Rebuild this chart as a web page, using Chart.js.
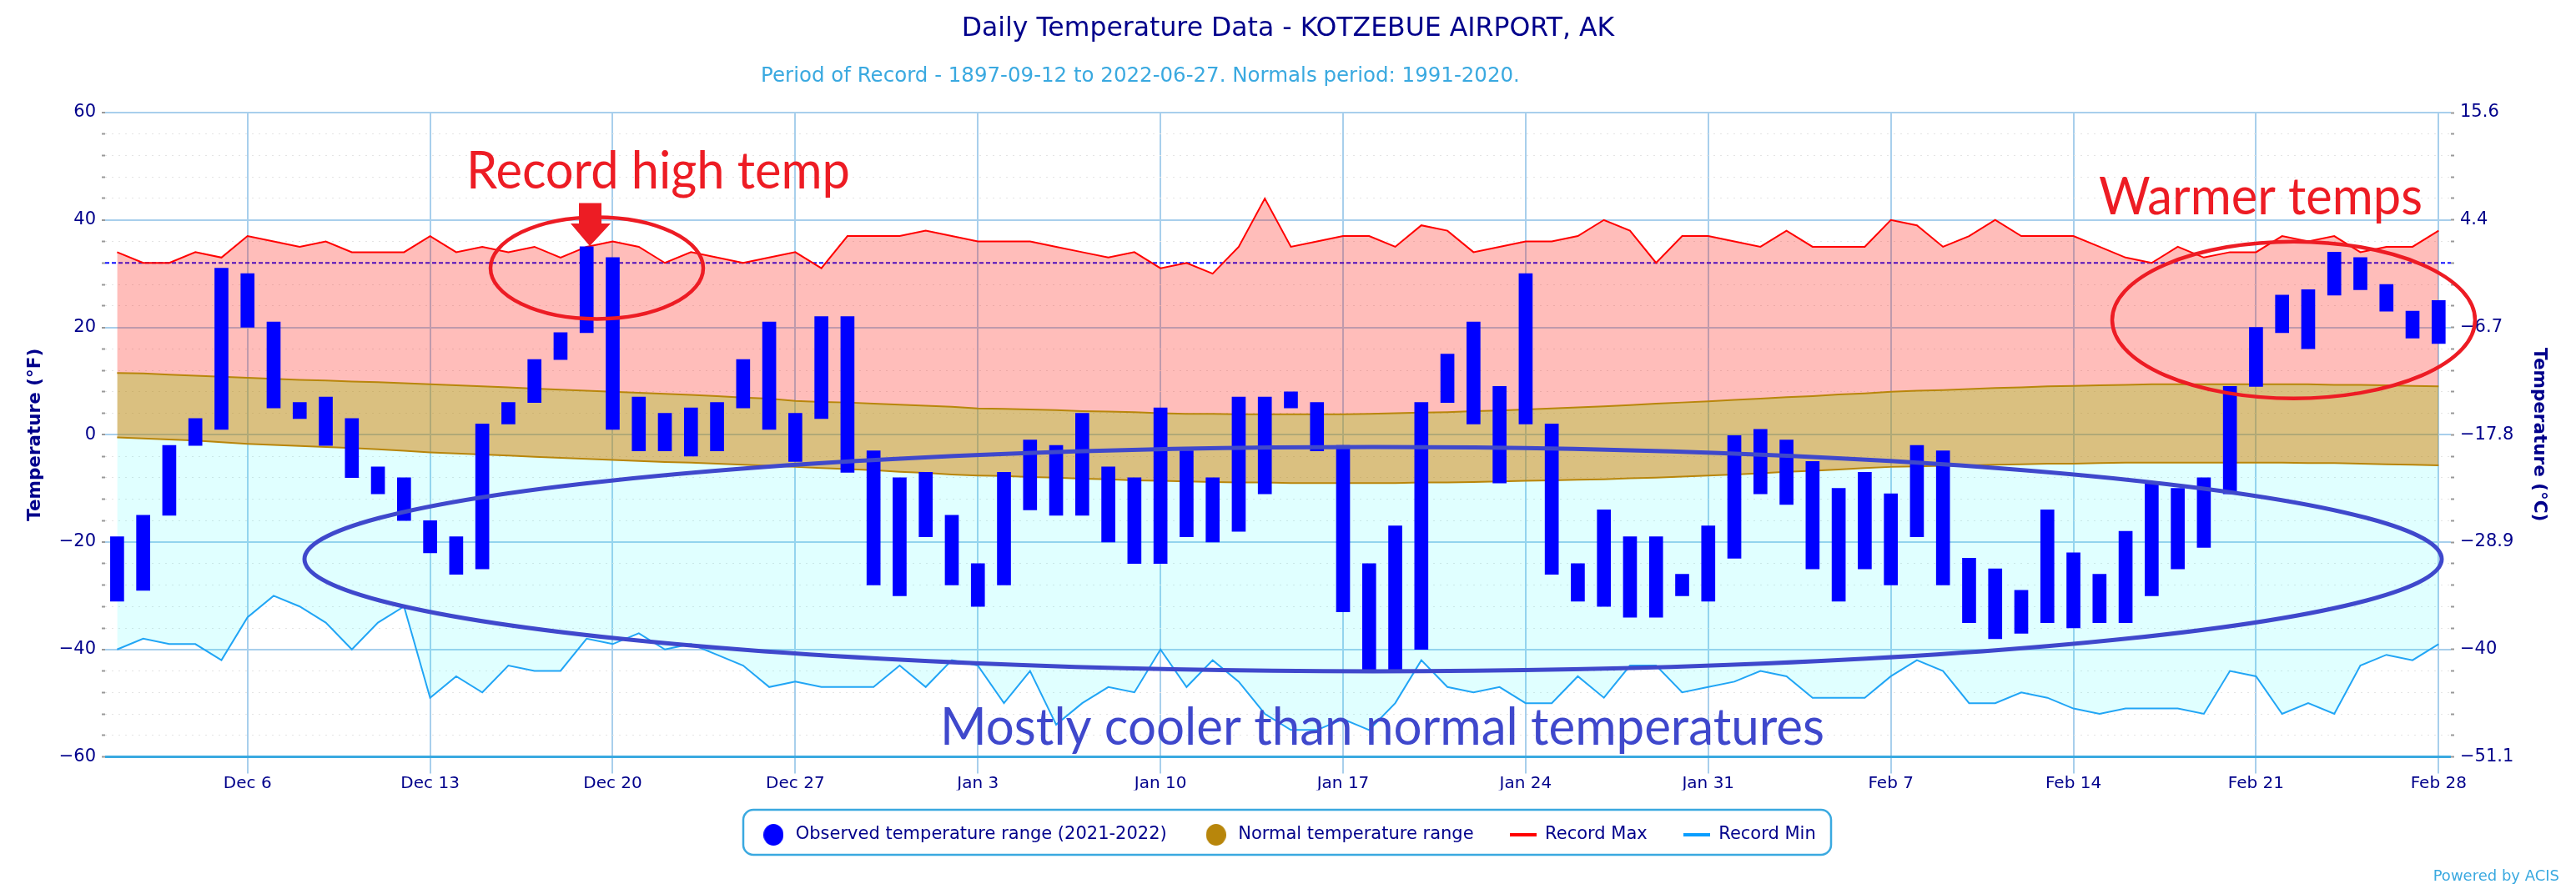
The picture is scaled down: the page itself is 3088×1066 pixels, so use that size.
<!DOCTYPE html>
<html>
<head>
<meta charset="utf-8">
<title>Daily Temperature Data</title>
<script src="https://cdn.jsdelivr.net/npm/chart.js@4/dist/chart.umd.min.js"></script>
<style>
    html, body { margin: 0; padding: 0; background: #fff; }
    canvas { display: block; }
</style>
</head>
<body>
<canvas id="temp-chart" width="3088" height="1066"></canvas>
<script>
// Day labels on the axis, index 5 is Dec 6 and every 7th day after that
const tickDays = [5, 12, 19, 26, 33, 40, 47, 54, 61, 68, 75, 82, 89];
const tickLabels = ['Dec 6', 'Dec 13', 'Dec 20', 'Dec 27', 'Jan 3', 'Jan 10', 'Jan 17', 'Jan 24', 'Jan 31', 'Feb 7', 'Feb 14', 'Feb 21', 'Feb 28'];

// Values in deg F, Dec 1 to Feb 28
const obsHigh = [
    -19, -15, -2, 3, 31, 30, 21, 6, 7, 3, -6, -8, -16, -19, 2, 6, 14, 19, 35, 33, 7, 4, 5, 6, 14, 21, 4, 22,
    22, -3, -8, -7, -15, -24, -7, -1, -2, 4, -6, -8, 5, -3, -8, 7, 7, 8, 6, -2, -24, -17, 6, 15, 21, 9, 30, 2, -24, -14, -19, -19,
    -26, -17, 0, 1, -1, -5, -10, -7, -11, -2, -3, -23, -25, -29, -14, -22, -26, -18, -9, -10, -8, 9, 20, 26, 27, 34, 33, 28, 23, 25
];
const obsLow = [
    -31, -29, -15, -2, 1, 20, 5, 3, -2, -8, -11, -16, -22, -26, -25, 2, 6, 14, 19, 1, -3, -3, -4, -3, 5, 1, -5, 3,
    -7, -28, -30, -19, -28, -32, -28, -14, -15, -15, -20, -24, -24, -19, -20, -18, -11, 5, -3, -33, -44, -44, -40, 6, 2, -9, 2, -26, -31, -32, -34, -34,
    -30, -31, -23, -11, -13, -25, -31, -25, -28, -19, -28, -35, -38, -37, -35, -36, -35, -35, -30, -25, -21, -11, 9, 19, 16, 26, 27, 23, 18, 17
];
const normalHigh = [
    11.5, 11.4, 11.2, 11.0, 10.8, 10.6, 10.4, 10.2, 10.1, 9.9, 9.8, 9.6, 9.4, 9.2, 9.0, 8.8, 8.6, 8.4, 8.2, 8.0,
    7.8, 7.6, 7.4, 7.2, 6.9, 6.7, 6.3, 6.1, 6.0, 5.8, 5.6, 5.4, 5.2, 4.9, 4.8, 4.7, 4.6, 4.4, 4.3, 4.2,
    4.0, 3.9, 3.9, 3.8, 3.8, 3.8, 3.8, 3.8, 3.9, 4.0, 4.1, 4.2, 4.4, 4.5, 4.7, 4.9, 5.1, 5.3, 5.5, 5.8,
    6.0, 6.2, 6.5, 6.7, 7.0, 7.2, 7.5, 7.7, 8.0, 8.2, 8.3, 8.5, 8.7, 8.8, 9.0, 9.1, 9.2, 9.3, 9.4, 9.4,
    9.4, 9.4, 9.4, 9.4, 9.4, 9.3, 9.3, 9.2, 9.1, 9.0
];
const normalLow = [
    -0.5, -0.7, -0.9, -1.1, -1.4, -1.7, -1.9, -2.1, -2.3, -2.5, -2.7, -3.0, -3.3, -3.5, -3.7, -3.9, -4.1, -4.3, -4.5, -4.7,
    -4.9, -5.1, -5.2, -5.4, -5.6, -5.8, -6.0, -6.2, -6.4, -6.6, -6.9, -7.1, -7.4, -7.6, -7.7, -7.9, -8.0, -8.2, -8.3, -8.5,
    -8.6, -8.7, -8.8, -8.9, -8.9, -9.0, -9.0, -9.0, -9.0, -9.0, -8.9, -8.9, -8.8, -8.7, -8.6, -8.5, -8.4, -8.3, -8.1, -8.0,
    -7.8, -7.6, -7.4, -7.2, -6.9, -6.7, -6.5, -6.2, -6.0, -5.9, -5.8, -5.7, -5.6, -5.5, -5.4, -5.4, -5.3, -5.2, -5.2, -5.2,
    -5.2, -5.2, -5.2, -5.2, -5.3, -5.3, -5.4, -5.5, -5.6, -5.7
];
const recordMax = [
    34, 32, 32, 34, 33, 37, 36, 35, 36, 34, 34, 34, 37, 34, 35, 34, 35, 33, 35, 36, 35, 32, 34, 33, 32, 33, 34, 31,
    37, 37, 37, 38, 37, 36, 36, 36, 35, 34, 33, 34, 31, 32, 30, 35, 44, 35, 36, 37, 37, 35, 39, 38, 34, 35, 36, 36, 37, 40, 38, 32,
    37, 37, 36, 35, 38, 35, 35, 35, 40, 39, 35, 37, 40, 37, 37, 37, 35, 33, 32, 35, 33, 34, 34, 37, 36, 37, 34, 35, 35, 38
];
const recordMin = [
    -40, -38, -39, -39, -42, -34, -30, -32, -35, -40, -35, -32, -49, -45, -48, -43, -44, -44, -38, -39, -37, -40, -39, -41, -43, -47, -46, -47,
    -47, -47, -43, -47, -42, -43, -50, -44, -54, -50, -47, -48, -40, -47, -42, -46, -52, -55, -55, -53, -55, -50, -42, -47, -48, -47, -50, -50, -45, -49, -43, -43,
    -48, -47, -46, -44, -45, -49, -49, -49, -45, -42, -44, -50, -50, -48, -49, -51, -52, -51, -51, -51, -52, -44, -45, -52, -50, -52, -43, -41, -42, -39
];
const freezingPoint = 32;

const xMin = -0.46;
const xMax = 89.47;

const NAVY = '#00008b';
const SKY = '#3aa9e0';
const GRID = '#a8cfec';
const TICK_GREY = '#999999';
const FONT = '"DejaVu Sans", sans-serif';
const NOTE_FONT = 'Lato, sans-serif';
const NOTE_RED = '#ed1c24';
const NOTE_BLUE = '#3f48cc';

function series(values) {
    return values.map((v, i) => ({ x: i, y: v }));
}

function minusSign(text) {
    return String(text).replace('-', '\u2212');
}

// Legend markers as small canvases, the built in ones cannot mix a round dot and a long line
function dotMarker(color) {
    const c = document.createElement('canvas');
    c.width = 24;
    c.height = 26;
    const ctx = c.getContext('2d');
    ctx.fillStyle = color;
    ctx.beginPath();
    ctx.ellipse(12, 13, 12, 13, 0, 0, Math.PI * 2);
    ctx.fill();
    return c;
}

function lineMarker(color) {
    const c = document.createElement('canvas');
    c.width = 32;
    c.height = 4;
    const ctx = c.getContext('2d');
    ctx.fillStyle = color;
    ctx.fillRect(0, 0, 32, 4);
    return c;
}

const legendEntries = [
    { text: 'Observed temperature range (2021-2022)', pointStyle: dotMarker('#0000ff') },
    { text: 'Normal temperature range', pointStyle: dotMarker('#b8860b') },
    { text: 'Record Max', pointStyle: lineMarker('#ff0000') },
    { text: 'Record Min', pointStyle: lineMarker('#0a9eff') }
];

// Hand drawn notes, subtitle, legend frame and credit sit on top of the chart
const notesPlugin = {
    id: 'notes',
    afterDraw(chart) {
        const ctx = chart.ctx;
        ctx.save();

        // subtitle is off centre in the original
        ctx.textBaseline = 'alphabetic';
        ctx.textAlign = 'center';
        ctx.fillStyle = SKY;
        ctx.font = '24.5px ' + FONT;
        ctx.fillText('Period of Record - 1897-09-12 to 2022-06-27. Normals period: 1991-2020.', 1367, 98);

        ctx.textAlign = 'right';
        ctx.font = '18px ' + FONT;
        ctx.fillText('Powered by ACIS', 3068, 1056);

        // legend frame
        ctx.strokeStyle = SKY;
        ctx.lineWidth = 2.5;
        ctx.beginPath();
        ctx.roundRect(891, 971, 1304, 54, 12);
        ctx.stroke();

        // ellipses
        ctx.lineWidth = 4.5;
        ctx.strokeStyle = NOTE_RED;
        ctx.beginPath();
        ctx.ellipse(715.5, 321.4, 127.5, 61, 0, 0, Math.PI * 2);
        ctx.stroke();
        ctx.beginPath();
        ctx.ellipse(2749.5, 383.7, 217.5, 94, 0, 0, Math.PI * 2);
        ctx.stroke();

        ctx.lineWidth = 5;
        ctx.strokeStyle = NOTE_BLUE;
        ctx.beginPath();
        ctx.ellipse(1646, 670.5, 1281, 134.5, 0, 0, Math.PI * 2);
        ctx.stroke();

        // arrow
        ctx.fillStyle = NOTE_RED;
        ctx.beginPath();
        ctx.moveTo(694, 243.6);
        ctx.lineTo(721, 243.6);
        ctx.lineTo(721, 268);
        ctx.lineTo(732, 268);
        ctx.lineTo(707, 295);
        ctx.lineTo(684, 268);
        ctx.lineTo(694, 268);
        ctx.closePath();
        ctx.fill();

        // note text
        ctx.textAlign = 'left';
        ctx.font = '62px ' + NOTE_FONT;
        ctx.fillText('Record high temp', 559, 226, 460);
        ctx.fillText('Warmer temps', 2516, 257, 388);
        ctx.fillStyle = NOTE_BLUE;
        ctx.fillText('Mostly cooler than normal temperatures', 1127, 893, 1060);

        ctx.restore();
    }
};

new Chart(document.getElementById('temp-chart').getContext('2d'), {
    type: 'bar',
    plugins: [notesPlugin],
    data: {
        datasets: [
            {
                label: 'Observed',
                data: obsLow.map((low, i) => ({ x: i, y: [low, obsHigh[i]] })),
                backgroundColor: '#0000ff',
                barThickness: 16,
                order: 0
            },
            {
                type: 'line',
                label: 'Record Max',
                data: series(recordMax),
                borderColor: '#ff0000',
                borderWidth: 2,
                pointRadius: 0,
                tension: 0,
                fill: { target: 2, above: 'rgba(255,10,0,0.27)', below: 'rgba(255,10,0,0.27)' },
                order: 4
            },
            {
                type: 'line',
                label: 'Normal High',
                data: series(normalHigh),
                borderColor: '#b8860b',
                borderWidth: 2,
                pointRadius: 0,
                tension: 0,
                fill: { target: 3, above: 'rgba(184,134,11,0.52)', below: 'rgba(184,134,11,0.52)' },
                order: 2
            },
            {
                type: 'line',
                label: 'Normal Low',
                data: series(normalLow),
                borderColor: '#b8860b',
                borderWidth: 2,
                pointRadius: 0,
                tension: 0,
                fill: { target: 4, above: 'rgba(0,255,255,0.12)', below: 'rgba(0,255,255,0.12)' },
                order: 3
            },
            {
                type: 'line',
                label: 'Record Min',
                data: series(recordMin),
                borderColor: '#21a5f5',
                borderWidth: 2,
                pointRadius: 0,
                tension: 0,
                fill: false,
                order: 1
            },
            {
                type: 'line',
                label: 'Freezing',
                data: [{ x: xMin, y: freezingPoint }, { x: xMax, y: freezingPoint }],
                borderColor: '#1010ff',
                borderWidth: 2,
                borderDash: [5, 3],
                pointRadius: 0,
                fill: false,
                order: 5
            }
        ]
    },
    options: {
        responsive: false,
        animation: false,
        devicePixelRatio: 1,
        plugins: {
            tooltip: { enabled: false },
            title: {
                display: true,
                text: 'Daily Temperature Data - KOTZEBUE AIRPORT, AK',
                color: NAVY,
                font: { family: FONT, size: 31.5, weight: 'normal' },
                padding: { top: 16, bottom: 81.2 }
            },
            legend: {
                position: 'bottom',
                labels: {
                    color: NAVY,
                    font: { family: FONT, size: 21 },
                    usePointStyle: true,
                    pointStyleWidth: 32,
                    boxHeight: 17,
                    padding: 43,
                    generateLabels: () => legendEntries.map((entry, i) => ({ ...entry, datasetIndex: i, fontColor: NAVY, lineWidth: 0 }))
                }
            }
        },
        layout: { padding: { bottom: 44.5 } },
        scales: {
            x: {
                type: 'linear',
                min: xMin,
                max: xMax,
                offset: false,
                afterFit: scale => { scale.height = 40; },
                afterBuildTicks: scale => { scale.ticks = tickDays.map(value => ({ value })); },
                grid: { offset: false, color: GRID, lineWidth: 2, tickLength: 20, tickColor: GRID },
                border: { display: false },
                ticks: {
                    autoSkip: false,
                    maxRotation: 0,
                    padding: 0,
                    color: NAVY,
                    font: { family: FONT, size: 20 },
                    callback: value => tickLabels[tickDays.indexOf(value)]
                }
            },
            y: {
                position: 'left',
                min: -60,
                max: 60,
                afterFit: scale => { scale.width = 126; },
                grid: {
                    color: ctx => {
                        if (ctx.tick.value === -60) return SKY;
                        return ctx.tick.value % 20 === 0 ? GRID : '#e4e4e4';
                    },
                    lineWidth: ctx => {
                        if (ctx.tick.value === -60) return 3;
                        return ctx.tick.value % 20 === 0 ? 2 : 1;
                    },
                    tickLength: 4,
                    tickWidth: 2,
                    tickColor: TICK_GREY
                },
                border: {
                    display: false,
                    dash: ctx => ctx.tick && ctx.tick.value % 20 !== 0 ? [2, 6] : []
                },
                ticks: {
                    stepSize: 4,
                    autoSkip: false,
                    padding: 7,
                    color: NAVY,
                    font: { family: FONT, size: 21 },
                    callback: value => value % 20 === 0 ? minusSign(value) : ''
                },
                title: {
                    display: true,
                    text: 'Temperature (\u00b0F)',
                    color: NAVY,
                    font: { family: FONT, size: 21.5, weight: 'bold' },
                    padding: { top: 30, bottom: 0 }
                }
            },
            y2: {
                position: 'right',
                min: -60,
                max: 60,
                afterFit: scale => { scale.width = 150; },
                grid: {
                    drawOnChartArea: false,
                    tickLength: 4,
                    tickWidth: 2,
                    tickColor: TICK_GREY
                },
                border: { display: false },
                ticks: {
                    stepSize: 4,
                    autoSkip: false,
                    padding: 7,
                    color: NAVY,
                    font: { family: FONT, size: 21 },
                    callback: value => value % 20 === 0 ? minusSign(Number(((value - 32) / 1.8).toFixed(1))) : ''
                },
                title: {
                    display: true,
                    text: 'Temperature (\u00b0C)',
                    color: NAVY,
                    font: { family: FONT, size: 21.5, weight: 'bold' },
                    padding: { top: 32, bottom: 0 }
                }
            }
        }
    }
});
</script>
</body>
</html>
